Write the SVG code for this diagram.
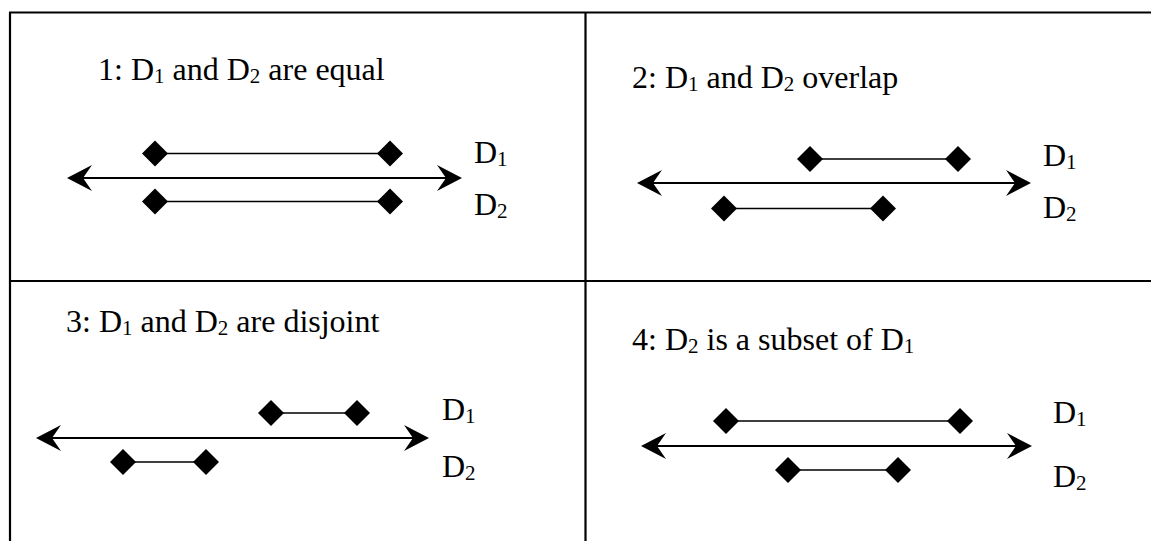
<svg xmlns="http://www.w3.org/2000/svg" xmlns:xlink="http://www.w3.org/1999/xlink" width="1151" height="541" viewBox="0 0 1151 541">
<style>
text{font-family:"Liberation Serif","Times New Roman",serif;font-size:32px;fill:#000}
.sub{font-size:21px}
.frame{stroke:#000;stroke-width:2.2;fill:none}
.axis{stroke:#000;stroke-width:2;fill:none}
.seg{stroke:#000;stroke-width:1.6;fill:none}
.dia{fill:#000}
</style>
<defs>
<marker id="ah" markerUnits="userSpaceOnUse" markerWidth="30" markerHeight="30" viewBox="-27 -15 30 30" refX="-15" refY="0" orient="auto-start-reverse">
<path d="M0,0 L-25,-13 L-16,0 L-25,13 Z" fill="#000"/>
</marker>
<path id="dm" d="M-13,0 L0,-13 L13,0 L0,13 Z"/>
</defs>
<rect width="1151" height="541" fill="#fff"/>
<g id="table">
<path class="frame" d="M9,12.5 H1151 M10,12.5 V541 M585.5,12.5 V541 M9,281 H1151"/>
</g>
<g id="connectors">
<path class="axis" d="M82,178 H447" marker-start="url(#ah)" marker-end="url(#ah)"/>
<path class="seg" d="M155,153.5 H390 M155,201.5 H390"/>
<path class="axis" d="M652,183 H1016" marker-start="url(#ah)" marker-end="url(#ah)"/>
<path class="seg" d="M810,159 H958 M724,208.5 H883"/>
<path class="axis" d="M51,438 H414" marker-start="url(#ah)" marker-end="url(#ah)"/>
<path class="seg" d="M271,413 H357 M123,462 H206"/>
<path class="axis" d="M656,446 H1017" marker-start="url(#ah)" marker-end="url(#ah)"/>
<path class="seg" d="M726,421 H960 M788,470 H898"/>
</g>
<g id="panel1">
<text x="98" y="80">1: D<tspan class="sub" dy="3">1</tspan><tspan dy="-3"> and D</tspan><tspan class="sub" dy="3">2</tspan><tspan dy="-3"> are equal</tspan></text>
<use xlink:href="#dm" x="155" y="153.5" class="dia"/>
<use xlink:href="#dm" x="390" y="153.5" class="dia"/>
<use xlink:href="#dm" x="155" y="201.5" class="dia"/>
<use xlink:href="#dm" x="390" y="201.5" class="dia"/>
<text x="474" y="163">D<tspan class="sub" dy="3">1</tspan></text>
<text x="474" y="215">D<tspan class="sub" dy="3">2</tspan></text>
</g>
<g id="panel2">
<text x="632" y="88">2: D<tspan class="sub" dy="3">1</tspan><tspan dy="-3"> and D</tspan><tspan class="sub" dy="3">2</tspan><tspan dy="-3"> overlap</tspan></text>
<use xlink:href="#dm" x="810" y="159" class="dia"/>
<use xlink:href="#dm" x="958" y="159" class="dia"/>
<use xlink:href="#dm" x="724" y="208.5" class="dia"/>
<use xlink:href="#dm" x="883" y="208.5" class="dia"/>
<text x="1043" y="166">D<tspan class="sub" dy="3">1</tspan></text>
<text x="1043" y="218">D<tspan class="sub" dy="3">2</tspan></text>
</g>
<g id="panel3">
<text x="66" y="332">3: D<tspan class="sub" dy="3">1</tspan><tspan dy="-3"> and D</tspan><tspan class="sub" dy="3">2</tspan><tspan dy="-3"> are disjoint</tspan></text>
<use xlink:href="#dm" x="271" y="413" class="dia"/>
<use xlink:href="#dm" x="357" y="413" class="dia"/>
<use xlink:href="#dm" x="123" y="462" class="dia"/>
<use xlink:href="#dm" x="206" y="462" class="dia"/>
<text x="442" y="420">D<tspan class="sub" dy="3">1</tspan></text>
<text x="442" y="477">D<tspan class="sub" dy="3">2</tspan></text>
</g>
<g id="panel4">
<text x="632" y="350">4: D<tspan class="sub" dy="3">2</tspan><tspan dy="-3"> is a subset of D</tspan><tspan class="sub" dy="3">1</tspan></text>
<use xlink:href="#dm" x="726" y="421" class="dia"/>
<use xlink:href="#dm" x="960" y="421" class="dia"/>
<use xlink:href="#dm" x="788" y="470" class="dia"/>
<use xlink:href="#dm" x="898" y="470" class="dia"/>
<text x="1053" y="423">D<tspan class="sub" dy="3">1</tspan></text>
<text x="1053" y="487">D<tspan class="sub" dy="3">2</tspan></text>
</g>
</svg>
